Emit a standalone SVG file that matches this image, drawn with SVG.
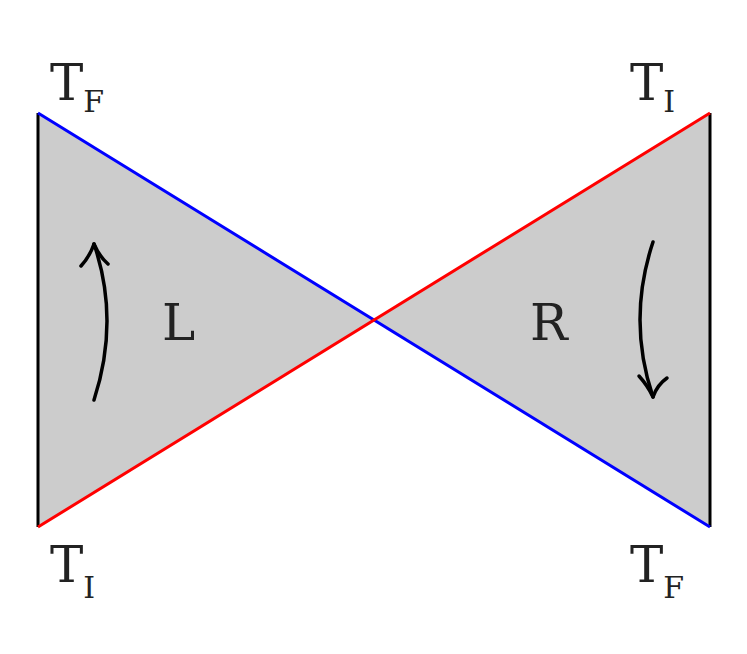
<svg xmlns="http://www.w3.org/2000/svg" width="747" height="654" viewBox="0 0 747 654">
<style>
.t{font-family:"DejaVu Serif","Liberation Serif",serif;fill:#222}
.big{font-size:50px}
.sub{font-size:30px}
.arr{fill:none;stroke:#000;stroke-width:3.5;stroke-linecap:round;stroke-linejoin:round}
</style>
<rect width="747" height="654" fill="#fff"/>
<g id="left"><polygon points="38,113 374,320 38,527" fill="#cccccc"/></g>
<g id="right"><polygon points="710,113 374,320 710,527" fill="#cccccc"/></g>
<g id="connectors">
<line x1="38" y1="113" x2="38" y2="527" stroke="#000" stroke-width="3"/>
<line x1="710" y1="113" x2="710" y2="527" stroke="#000" stroke-width="3"/>
<line x1="38" y1="113" x2="710" y2="527" stroke="#0000ff" stroke-width="3"/>
<line x1="38" y1="527" x2="710" y2="113" stroke="#ff0000" stroke-width="3"/>
<path class="arr" d="M94,400 Q120,320 94,244"/>
<path class="arr" d="M81,266 Q90,256 94,244 Q99,256 108,264"/>
<path class="arr" d="M653,242 Q627,320 653,397"/>
<path class="arr" d="M639,376 Q648,386 653,397 Q657,385 667,378"/>
</g>
<g id="labels">
<text class="t big" x="162" y="340">L</text>
<text class="t big" x="530" y="340">R</text>
<text class="t big" x="50" y="100">T<tspan class="sub" dy="12">F</tspan></text>
<text class="t big" x="630" y="100">T<tspan class="sub" dy="12">I</tspan></text>
<text class="t big" x="50" y="582">T<tspan class="sub" dy="16">I</tspan></text>
<text class="t big" x="630" y="582">T<tspan class="sub" dy="16">F</tspan></text>
</g>
</svg>
